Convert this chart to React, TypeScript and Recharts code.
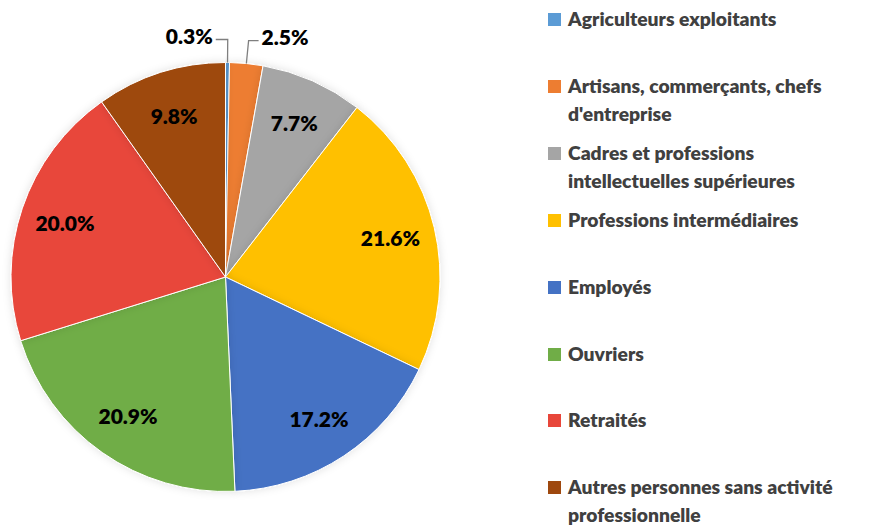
import React from 'react';
import { PieChart, Pie, Cell, Legend } from 'recharts';

const categories = [
  'Agriculteurs exploitants',
  'Artisans, commerçants, chefs d\'entreprise',
  'Cadres et professions intellectuelles supérieures',
  'Professions intermédiaires',
  'Employés',
  'Ouvriers',
  'Retraités',
  'Autres personnes sans activité professionnelle',
];
// legend text split as in the original (line breaks)
const legendLines = [
  ['Agriculteurs exploitants'],
  ['Artisans, commerçants, chefs', 'd\'entreprise'],
  ['Cadres et professions', 'intellectuelles supérieures'],
  ['Professions intermédiaires'],
  ['Employés'],
  ['Ouvriers'],
  ['Retraités'],
  ['Autres personnes sans activité', 'professionnelle'],
];
const shares = [0.3, 2.5, 7.7, 21.6, 17.2, 20.9, 20.0, 9.8];
const colors = ['#5B9BD5', '#ED7D31', '#A5A5A5', '#FFC000', '#4472C4', '#70AD47', '#E8463A', '#9E480E'];

const chartData = categories.map((name, i) => ({ name, value: shares[i], color: colors[i] }));

const RADIAN = Math.PI / 180;
const FONT = 'Lato, "Open Sans", sans-serif';

const renderLabel = (props: any) => {
  const { cx, cy, midAngle, outerRadius, index, value } = props;
  const cos = Math.cos(-midAngle * RADIAN);
  const sin = Math.sin(-midAngle * RADIAN);
  const text = `${Number(value).toFixed(1)}%`;

  if (value < 5) {
    // small slices: label outside with an elbow leader line
    const sx = cx + outerRadius * cos;
    const sy = cy + outerRadius * sin;
    const ex = cx + (outerRadius + 23) * cos;
    const ey = cy + (outerRadius + 23) * sin;
    const goLeft = index === 0;
    const hx = ex + (goLeft ? -12 : 10);
    return (
      <g>
        <polyline points={`${sx},${sy} ${ex},${ey} ${hx},${ey}`} fill="none" stroke="#7f7f7f" strokeWidth={1.3} />
        <text
          x={hx + (goLeft ? -3 : 3)}
          y={ey - 4}
          textAnchor={goLeft ? 'end' : 'start'}
          dominantBaseline="central"
          fill="#000"
          fontSize={21}
          fontWeight={800}
          fontFamily={FONT}
        >
          {text}
        </text>
      </g>
    );
  }

  const r = outerRadius * 0.79;
  return (
    <text
      x={cx + r * cos}
      y={cy + r * sin}
      textAnchor="middle"
      dominantBaseline="central"
      fill="#000"
      fontSize={21}
      fontWeight={800}
      fontFamily={FONT}
    >
      {text}
    </text>
  );
};

const renderLegend = () => (
  <div style={{ fontFamily: FONT, fontWeight: 800, fontSize: 19.3, color: '#404040' }}>
    {chartData.map((entry, i) => (
      <div key={`leg-${i}`} style={{ position: 'absolute', left: 0, top: 5 + i * 66.9, display: 'flex' }}>
        <div style={{ width: 13, height: 13, background: entry.color, marginTop: 8, marginRight: 7 }} />
        <div style={{ lineHeight: '28px', whiteSpace: 'nowrap' }}>
          {legendLines[i].map((ln, j) => (
            <div key={j}>{ln}</div>
          ))}
        </div>
      </div>
    ))}
  </div>
);

const App: React.FC = () => {
  return (
    <div style={{ position: 'absolute', left: 0, top: 0, width: 877, height: 526, background: '#fff' }}>
      <PieChart width={877} height={526} margin={{ top: 0, right: 0, bottom: 0, left: 0 }}>
        <defs>
          <filter id="pieShadow" x="-10%" y="-10%" width="120%" height="120%">
            <feDropShadow dx="0" dy="0" stdDeviation="4" floodColor="#000" floodOpacity="0.12" />
          </filter>
        </defs>
        <Pie
          data={chartData}
          dataKey="value"
          nameKey="name"
          cx={225.5}
          cy={277}
          outerRadius={214.5}
          startAngle={90}
          endAngle={-270}
          stroke="#fff"
          strokeWidth={1}
          label={renderLabel}
          labelLine={false}
          isAnimationActive={false}
          style={{ filter: 'url(#pieShadow)' }}
        >
          {chartData.map((entry, index) => (
            <Cell key={`cell-${index}`} fill={entry.color} />
          ))}
        </Pie>
        <Legend
          content={renderLegend}
          wrapperStyle={{ position: 'absolute', left: 548, top: 0, width: 320, height: 526 }}
        />
      </PieChart>
    </div>
  );
};

export default App;
